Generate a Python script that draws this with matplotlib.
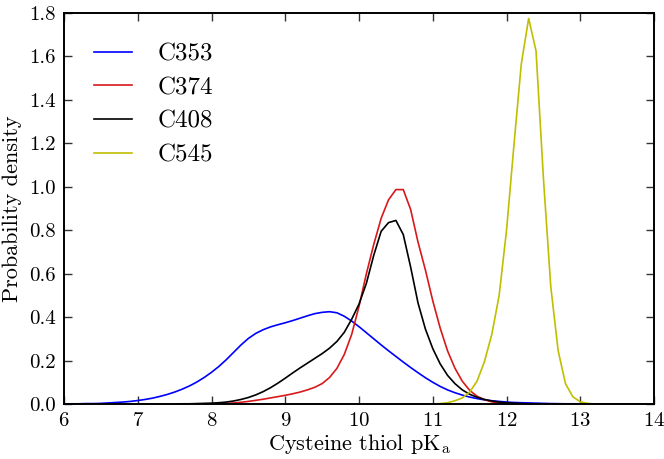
import matplotlib
matplotlib.use('Agg')
import matplotlib.pyplot as plt
import numpy as np

# pKa grid (0.1 steps) and density values
x_c353 = [6.0, 6.1, 6.2, 6.3, 6.4, 6.5, 6.6, 6.7, 6.8, 6.9,
          7.0, 7.1, 7.2, 7.3, 7.4, 7.5, 7.6, 7.7, 7.8, 7.9,
          8.0, 8.1, 8.2, 8.3, 8.4, 8.5, 8.6, 8.7, 8.8, 8.9,
          9.0, 9.1, 9.2, 9.3, 9.4, 9.5, 9.6, 9.7, 9.8, 9.9,
          10.0, 10.1, 10.2, 10.3, 10.4, 10.5, 10.6, 10.7, 10.8, 10.9,
          11.0, 11.1, 11.2, 11.3, 11.4, 11.5, 11.6, 11.7, 11.8, 11.9,
          12.0, 12.1, 12.2, 12.3, 12.4, 12.5, 12.6, 12.8, 13.0, 13.5, 14.0]
y_c353 = [0.000, 0.001, 0.001, 0.002, 0.002, 0.003, 0.005, 0.007, 0.009, 0.012,
          0.016, 0.021, 0.027, 0.035, 0.044, 0.055, 0.068, 0.083, 0.101, 0.122,
          0.146, 0.173, 0.204, 0.238, 0.272, 0.302, 0.325, 0.342, 0.355, 0.365,
          0.374, 0.384, 0.395, 0.406, 0.416, 0.422, 0.425, 0.420, 0.404, 0.382,
          0.356, 0.328, 0.300, 0.272, 0.245, 0.219, 0.193, 0.168, 0.144, 0.121,
          0.100, 0.081, 0.065, 0.052, 0.041, 0.032, 0.025, 0.019, 0.015, 0.012,
          0.009, 0.007, 0.006, 0.005, 0.004, 0.003, 0.002, 0.001, 0.001, 0.000, 0.000]

x_c374 = [7.8, 7.9, 8.0, 8.1, 8.2, 8.3, 8.4, 8.5, 8.6, 8.7,
          8.8, 8.9, 9.0, 9.1, 9.2, 9.3, 9.4, 9.5, 9.6, 9.7,
          9.8, 9.9, 10.0, 10.1, 10.2, 10.3, 10.4, 10.5, 10.6, 10.7,
          10.8, 10.9, 11.0, 11.1, 11.2, 11.3, 11.4, 11.5, 11.6, 11.7,
          11.8, 11.9, 12.0, 12.1, 12.2]
y_c374 = [0.000, 0.001, 0.001, 0.002, 0.003, 0.005, 0.008, 0.012, 0.017, 0.022,
          0.028, 0.034, 0.040, 0.047, 0.055, 0.065, 0.077, 0.094, 0.122, 0.164,
          0.228, 0.320, 0.450, 0.600, 0.735, 0.855, 0.940, 0.987, 0.987, 0.895,
          0.745, 0.617, 0.475, 0.350, 0.245, 0.165, 0.105, 0.063, 0.036, 0.020,
          0.010, 0.005, 0.002, 0.001, 0.000]

x_c408 = [7.5, 7.6, 7.7, 7.8, 7.9, 8.0, 8.1, 8.2, 8.3, 8.4,
          8.5, 8.6, 8.7, 8.8, 8.9, 9.0, 9.1, 9.2, 9.3, 9.4,
          9.5, 9.6, 9.7, 9.8, 9.9, 10.0, 10.1, 10.2, 10.3, 10.4,
          10.5, 10.6, 10.7, 10.8, 10.9, 11.0, 11.1, 11.2, 11.3, 11.4,
          11.5, 11.6, 11.7, 11.8, 11.9, 12.0, 12.1, 12.2, 12.3, 12.4]
y_c408 = [0.000, 0.001, 0.001, 0.002, 0.003, 0.004, 0.006, 0.009, 0.014, 0.021,
          0.030, 0.042, 0.057, 0.075, 0.096, 0.119, 0.143, 0.166, 0.188, 0.210,
          0.232, 0.257, 0.288, 0.330, 0.390, 0.460, 0.556, 0.685, 0.795, 0.835,
          0.845, 0.780, 0.630, 0.465, 0.345, 0.255, 0.185, 0.132, 0.094, 0.065,
          0.045, 0.031, 0.021, 0.014, 0.009, 0.006, 0.004, 0.002, 0.001, 0.000]

x_c545 = [11.0, 11.1, 11.2, 11.3, 11.4, 11.5, 11.6, 11.7, 11.8, 11.9,
          12.0, 12.1, 12.2, 12.3, 12.4, 12.5, 12.6, 12.7, 12.8, 12.9,
          13.0, 13.1, 13.2]
y_c545 = [0.000, 0.002, 0.006, 0.015, 0.028, 0.055, 0.105, 0.195, 0.320, 0.500,
          0.800, 1.190, 1.565, 1.775, 1.625, 1.040, 0.540, 0.245, 0.093, 0.033,
          0.010, 0.003, 0.000]

labels = ['C353', 'C374', 'C408', 'C545']
colors = ['#0000ff', '#d7191c', 'k', '#bfbf00']

plt.rcParams['font.family'] = 'cmr10'
plt.rcParams['mathtext.fontset'] = 'cm'
plt.rcParams['axes.formatter.use_mathtext'] = True

fig = plt.figure(figsize=(6.64, 4.59), dpi=100)
ax = fig.add_axes([0.0964, 0.1198, 0.8886, 0.8519])

series = [(x_c353, y_c353), (x_c374, y_c374), (x_c408, y_c408), (x_c545, y_c545)]
for (xs, ys), lab, c in zip(series, labels, colors):
    ax.plot(xs, ys, color=c, lw=1.2, label=lab)

ax.set_xlim(6, 14)
ax.set_ylim(0, 1.8)
ax.set_xticks(np.arange(6, 15, 1))
ax.set_yticks(np.arange(0, 1.81, 0.2))
ax.yaxis.set_major_formatter(matplotlib.ticker.FormatStrFormatter('%.1f'))
ax.tick_params(direction='in', top=True, right=True, length=5.5, width=1,
               labelsize=15, pad=6, color='#333333')
for s in ax.spines.values():
    s.set_linewidth(1.4)

ax.set_xlabel(r'Cysteine thiol pK$_{\rm a}$', fontsize=16, labelpad=1)
ax.set_ylabel('Probability density', fontsize=16, labelpad=5)

ax.legend(loc='upper left', frameon=False, fontsize=18, handlelength=1.5,
          handletextpad=1.05, labelspacing=0.45, borderaxespad=0.8)

fig.savefig('out.png', dpi=100)
